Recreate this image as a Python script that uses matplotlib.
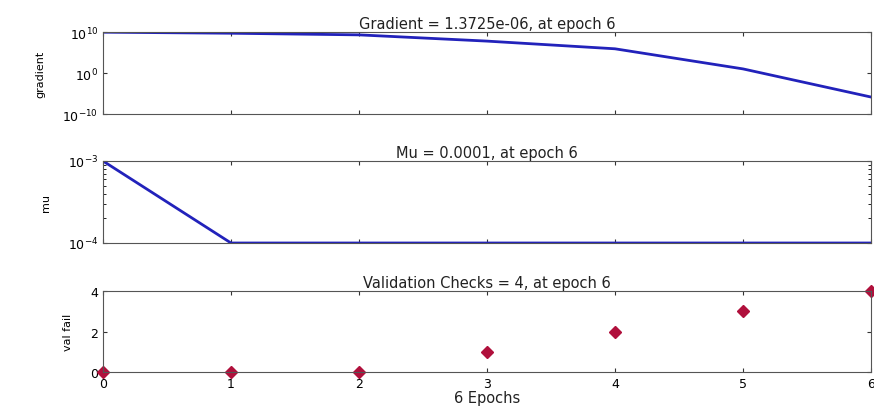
import matplotlib
matplotlib.use("Agg")
import matplotlib.pyplot as plt
from matplotlib.ticker import NullFormatter

# training state data
epochs = [0, 1, 2, 3, 4, 5, 6]
gradient = [9e9, 5e9, 2e9, 6e7, 8e5, 10, 1.3725e-06]
mu = [1e-3, 1e-4, 1e-4, 1e-4, 1e-4, 1e-4, 1e-4]
val_fail = [0, 0, 0, 1, 2, 3, 4]

plt.rcParams['font.family'] = ['DejaVu Sans']
plt.rcParams['font.size'] = 9

fig = plt.figure(figsize=(8.74, 4.10), dpi=100)
left, width = 103 / 874, 768 / 874

def axes_at(top_px, bottom_px):
    return fig.add_axes([left, 1 - bottom_px / 410, width, (bottom_px - top_px) / 410])

ax1 = axes_at(33, 115)
ax2 = axes_at(162, 244)
ax3 = axes_at(292, 373)

for ax in (ax1, ax2, ax3):
    ax.set_xlim(0, 6)
    ax.set_xticks(epochs)
    ax.tick_params(direction='in', top=True, right=True, length=3, colors='#333333',
                   labelcolor='black', labelsize=9)
    for s in ax.spines.values():
        s.set_color('#555555')

title_kw = dict(fontsize=10.5, pad=3, color='#222222')

# gradient
ax1.semilogy(epochs, gradient, color='#2222bb', linewidth=2)
ax1.set_ylim(1e-10, 1e10)
ax1.set_yticks([1e-10, 1e0, 1e10])
ax1.minorticks_off()
ax1.set_xticklabels([])
ax1.set_ylabel('gradient', fontsize=8, labelpad=12)
ax1.set_title('Gradient = 1.3725e-06, at epoch 6', **title_kw)

# mu
ax2.semilogy(epochs, mu, color='#2222bb', linewidth=2)
ax2.set_ylim(1e-4, 1e-3)
ax2.set_yticks([1e-4, 1e-3])
ax2.yaxis.set_minor_formatter(NullFormatter())
ax2.set_xticklabels([])
ax2.tick_params(which='minor', direction='in', right=True, length=2)
ax2.set_ylabel('mu', fontsize=8, labelpad=12)
ax2.set_title('Mu = 0.0001, at epoch 6', **title_kw)

# validation checks
ax3.plot(epochs, val_fail, linestyle='none', marker='D', markersize=6,
         color='#b0103c', clip_on=False)
ax3.set_ylim(0, 4)
ax3.set_yticks([0, 2, 4])
ax3.set_ylabel('val fail', fontsize=8, labelpad=12)
ax3.set_xlabel('6 Epochs', fontsize=10.5, labelpad=0, color='#222222')
ax3.set_title('Validation Checks = 4, at epoch 6', **title_kw)

fig.savefig('out.png', dpi=100)
